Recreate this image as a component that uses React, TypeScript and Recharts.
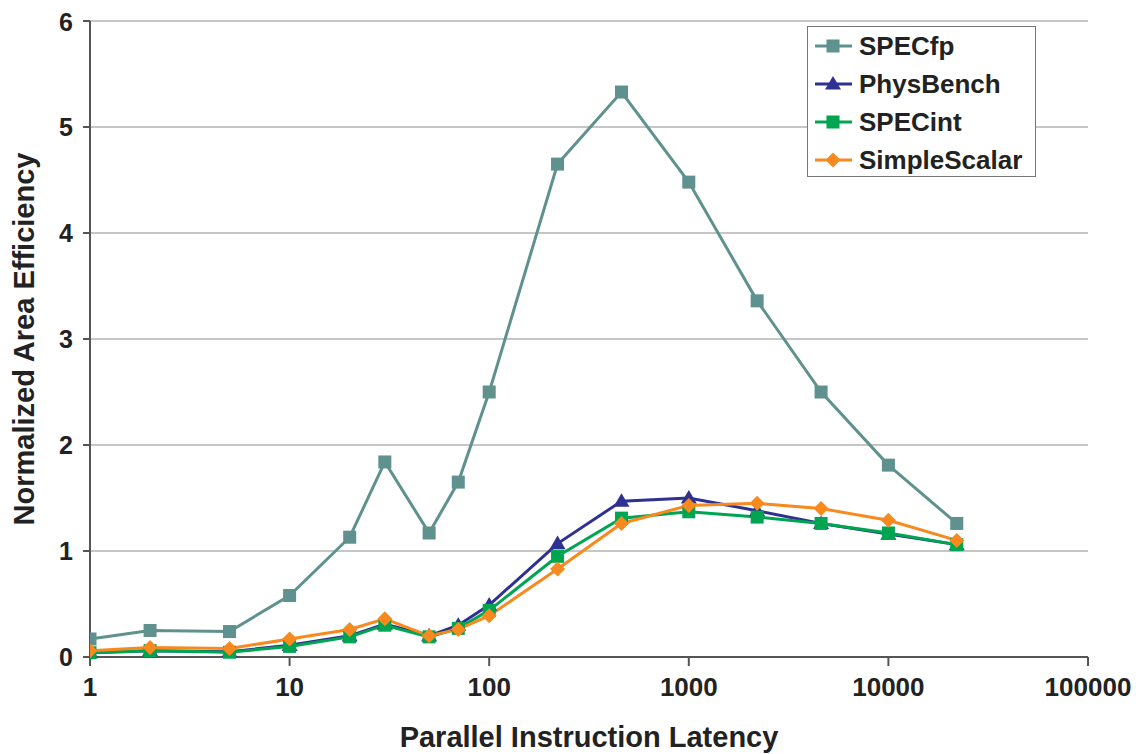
import React from "react";
import { LineChart, Line, XAxis, YAxis, CartesianGrid } from "recharts";

const latencies = [1, 2, 5, 10, 20, 30, 50, 70, 100, 220, 460, 1000, 2200, 4600, 10000, 22000];
const specfp = [0.17, 0.25, 0.24, 0.58, 1.13, 1.84, 1.17, 1.65, 2.5, 4.65, 5.33, 4.48, 3.36, 2.5, 1.81, 1.26];
const physbench = [0.04, 0.06, 0.05, 0.11, 0.2, 0.31, 0.2, 0.3, 0.49, 1.07, 1.47, 1.5, 1.38, 1.26, 1.16, 1.06];
const specint = [0.04, 0.06, 0.045, 0.1, 0.19, 0.3, 0.19, 0.27, 0.44, 0.95, 1.31, 1.37, 1.32, 1.26, 1.17, 1.06];
const simplescalar = [0.06, 0.09, 0.08, 0.17, 0.26, 0.36, 0.2, 0.26, 0.39, 0.83, 1.26, 1.43, 1.45, 1.4, 1.29, 1.1];

const xTicks = [1, 10, 100, 1000, 10000, 100000];
const yTicks = [0, 1, 2, 3, 4, 5, 6];

const data = latencies.map((x, i) => ({
  x,
  specfp: specfp[i],
  physbench: physbench[i],
  specint: specint[i],
  simplescalar: simplescalar[i],
}));

const series = [
  { key: "specfp", name: "SPECfp", color: "#5f918e", shape: "square" },
  { key: "physbench", name: "PhysBench", color: "#2e3192", shape: "triangle" },
  { key: "specint", name: "SPECint", color: "#00a551", shape: "square" },
  { key: "simplescalar", name: "SimpleScalar", color: "#f7891f", shape: "diamond" },
];

const FONT = "'Liberation Sans', Arial, sans-serif";

function Marker({ cx, cy, shape, color }: any) {
  if (cx == null || cy == null) return null;
  if (shape === "triangle") {
    const s = 8;
    return <polygon points={`${cx},${cy - s} ${cx + s},${cy + s * 0.7} ${cx - s},${cy + s * 0.7}`} fill={color} />;
  }
  if (shape === "diamond") {
    const s = 7.5;
    return <polygon points={`${cx},${cy - s} ${cx + s},${cy} ${cx},${cy + s} ${cx - s},${cy}`} fill={color} />;
  }
  return <rect x={cx - 6.5} y={cy - 6.5} width={13} height={13} fill={color} />;
}

function Legend() {
  return (
    <div
      style={{
        position: "absolute",
        left: 799,
        top: 18,
        width: 229,
        height: 151,
        border: "1.5px solid #777",
        background: "#fff",
        boxSizing: "border-box",
        fontFamily: FONT,
        fontWeight: 700,
        fontSize: 26,
        color: "#222",
      }}
    >
      {series.map((s, i) => (
        <div key={s.key} style={{ position: "absolute", left: 6, top: 4 + i * 38, height: 30, display: "flex", alignItems: "center" }}>
          <svg width={40} height={20} style={{ marginRight: 5 }}>
            <line x1={1} y1={10} x2={38} y2={10} stroke={s.color} strokeWidth={3} />
            <Marker cx={19} cy={10} shape={s.shape} color={s.color} />
          </svg>
          <span>{s.name}</span>
        </div>
      ))}
    </div>
  );
}

export default function App() {
  return (
    <div style={{ position: "relative", width: 1133, height: 746, background: "#fff" }}>
      <LineChart width={1133} height={746} data={data} margin={{ top: 13, right: 53, left: 0, bottom: 0 }}>
        <CartesianGrid vertical={false} stroke="#b3b3b3" strokeWidth={1.5} />
        <XAxis
          dataKey="x"
          type="number"
          scale="log"
          domain={[1, 100000]}
          ticks={xTicks}
          allowDataOverflow
          height={97}
          stroke="#555"
          strokeWidth={2}
          tickSize={9}
          tickMargin={12}
          tick={{ fill: "#222", fontFamily: FONT, fontWeight: 700, fontSize: 26 }}
          label={{
            value: "Parallel Instruction Latency",
            position: "insideBottom",
            offset: 7,
            fill: "#222",
            fontFamily: FONT,
            fontWeight: 700,
            fontSize: 29,
          }}
        />
        <YAxis
          type="number"
          domain={[0, 6]}
          ticks={yTicks}
          width={82}
          stroke="#555"
          strokeWidth={2}
          tickSize={7}
          tickMargin={10}
          tick={{ fill: "#222", fontFamily: FONT, fontWeight: 700, fontSize: 25 }}
          label={{
            value: "Normalized Area Efficiency",
            angle: -90,
            position: "insideLeft",
            offset: 16,
            style: { textAnchor: "middle" },
            fill: "#222",
            fontFamily: FONT,
            fontWeight: 700,
            fontSize: 29,
          }}
        />
        {series.map((s) => (
          <Line
            key={s.key}
            dataKey={s.key}
            name={s.name}
            stroke={s.color}
            strokeWidth={3}
            isAnimationActive={false}
            dot={(p: any) => <Marker key={`${s.key}-${p.index}`} cx={p.cx} cy={p.cy} shape={s.shape} color={s.color} />}
            activeDot={false}
          />
        ))}
      </LineChart>
      <Legend />
    </div>
  );
}
